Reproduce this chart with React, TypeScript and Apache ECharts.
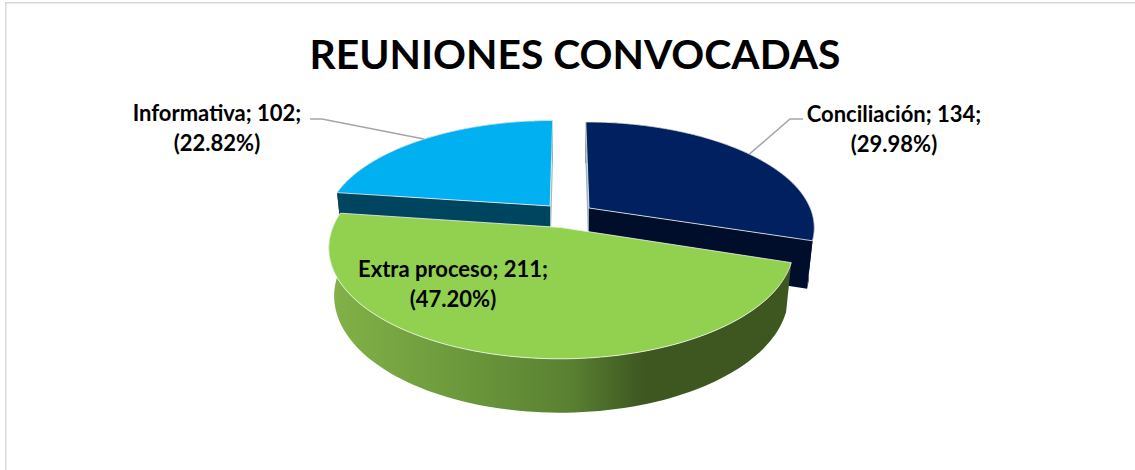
import React, { useEffect, useRef } from "react";
import * as echarts from "echarts";

const titleText = "REUNIONES CONVOCADAS";
const categories = ["Conciliación", "Extra proceso", "Informativa"];
const values = [134, 211, 102];
const topColors = ["#002060", "#92d050", "#00b0f0"];
const wallColors = ["#000d2b", "#3e5721", "#00455f"];
const labelAnchors = [
  { x: 894, y: 128, leader: [[803, 119], [790, 119]] },
  { x: 453, y: 283, leader: null },
  { x: 217, y: 127, leader: [[310, 119], [322, 119]] },
];

// projection of the pie's plane (unit radius) to the screen
const view = { cx: 567.5, cy: 215.2, scale: 224, tilt: 27.5, dist: 5.07, explode: 0.12, depth: 0.24 };
const sinT = Math.sin((view.tilt * Math.PI) / 180);
const cosT = Math.cos((view.tilt * Math.PI) / 180);

function project(X: number, Y: number, h: number): number[] {
  const w = Y * cosT - h * sinT;
  const s = 1 / (1 - w / view.dist);
  return [view.cx + view.scale * X * s, view.cy + view.scale * (Y * sinT + h * cosT) * s];
}

const total = values.reduce((a, b) => a + b, 0);

function renderSlice(params: any, api: any) {
  const i = params.dataIndex;
  const value = api.value(1);
  let before = 0;
  for (let k = 0; k < i; k++) before += values[k];
  const a0 = (before / total) * Math.PI * 2;
  const a1 = ((before + value) / total) * Math.PI * 2;
  const mid = (a0 + a1) / 2;
  const ox = view.explode * Math.sin(mid);
  const oy = -view.explode * Math.cos(mid);
  const rimPoint = (t: number, h: number) => project(ox + Math.sin(t), oy - Math.cos(t), h);
  const apex = (h: number) => project(ox, oy, h);

  const steps = 96;
  const arc = (h: number) => {
    const pts: number[][] = [];
    for (let n = 0; n <= steps; n++) pts.push(rimPoint(a0 + ((a1 - a0) * n) / steps, h));
    return pts;
  };
  const topArc = arc(0);
  const bottomArc = arc(view.depth);

  const area = (p: number[][]) => {
    let sum = 0;
    for (let n = 0; n < p.length; n++) {
      const q = p[(n + 1) % p.length];
      sum += p[n][0] * q[1] - q[0] * p[n][1];
    }
    return sum / 2;
  };

  const base = mid > Math.PI / 2 && mid < (Math.PI * 3) / 2 ? 20 : 1;
  const isFront = base === 20;
  const rimFill = isFront
    ? new echarts.graphic.LinearGradient(0, 0, 1, 0, [
        { offset: 0, color: "#82b248" },
        { offset: 0.3, color: "#6b973b" },
        { offset: 0.52, color: "#5a8132" },
        { offset: 0.68, color: "#3e5721" },
        { offset: 1, color: "#3e5721" },
      ])
    : wallColors[i];

  const children: any[] = [];
  children.push({
    type: "polygon",
    z2: base,
    shape: { points: topArc.concat(bottomArc.slice().reverse()) },
    style: { fill: rimFill },
  });

  // a wall that runs to the far back of the pie only shows as a thin lit sliver
  const wallFill = (p: number[][]) => (p[0][1] - p[1][1] > 40 ? "#9fb4c4" : wallColors[i]);
  const startWall = [apex(0), rimPoint(a0, 0), rimPoint(a0, view.depth), apex(view.depth)];
  const endWall = [apex(0), rimPoint(a1, 0), rimPoint(a1, view.depth), apex(view.depth)];
  if (area(startWall) < 0)
    children.push({ type: "polygon", z2: base + 1, shape: { points: startWall }, style: { fill: wallFill(startWall) } });
  if (area(endWall) > 0)
    children.push({ type: "polygon", z2: base + 1, shape: { points: endWall }, style: { fill: wallFill(endWall) } });

  children.push({
    type: "polygon",
    z2: base + 2,
    shape: { points: [apex(0)].concat(topArc) },
    style: { fill: topColors[i], stroke: "#f2f6ee", lineWidth: 0.8, lineJoin: "round" },
  });

  const anchor = labelAnchors[i];
  if (anchor.leader) {
    children.push({
      type: "polyline",
      z2: 40,
      shape: { points: anchor.leader.concat([rimPoint(mid, 0)]) },
      style: { stroke: "#a6a6a6", lineWidth: 1.5, fill: "none" },
    });
  }
  children.push({
    type: "text",
    z2: 50,
    x: anchor.x,
    y: anchor.y,
    style: {
      text: `${categories[i]}; ${value};\n(${((value / total) * 100).toFixed(2)}%)`,
      fill: "#000000",
      font: "bold 22px Lato",
      lineHeight: 30,
      align: "center",
      verticalAlign: "middle",
    },
  });
  return { type: "group", children };
}

export default function App() {
  const ref = useRef<HTMLDivElement>(null);
  useEffect(() => {
    const chart = echarts.init(ref.current!, null, { renderer: "svg" });
    chart.setOption({
      animation: false,
      backgroundColor: "#ffffff",
      title: {
        text: titleText,
        left: 570,
        top: 28,
        textAlign: "center",
        textStyle: { fontFamily: "Lato", fontWeight: "bold", fontSize: 40.8, color: "#000000" },
      },
      graphic: [
        { type: "rect", shape: { x: 5, y: 2, width: 1130, height: 1.5 }, style: { fill: "#d9d9d9" }, silent: true },
        { type: "rect", shape: { x: 5, y: 2, width: 1.5, height: 468 }, style: { fill: "#d9d9d9" }, silent: true },
      ],
      series: [
        {
          type: "custom",
          coordinateSystem: "none",
          silent: true,
          renderItem: renderSlice,
          data: values.map((v, i) => [i, v]),
        },
      ],
    });
    return () => chart.dispose();
  }, []);
  return <div ref={ref} style={{ position: "absolute", left: 0, top: 0, width: 1135, height: 470 }} />;
}
